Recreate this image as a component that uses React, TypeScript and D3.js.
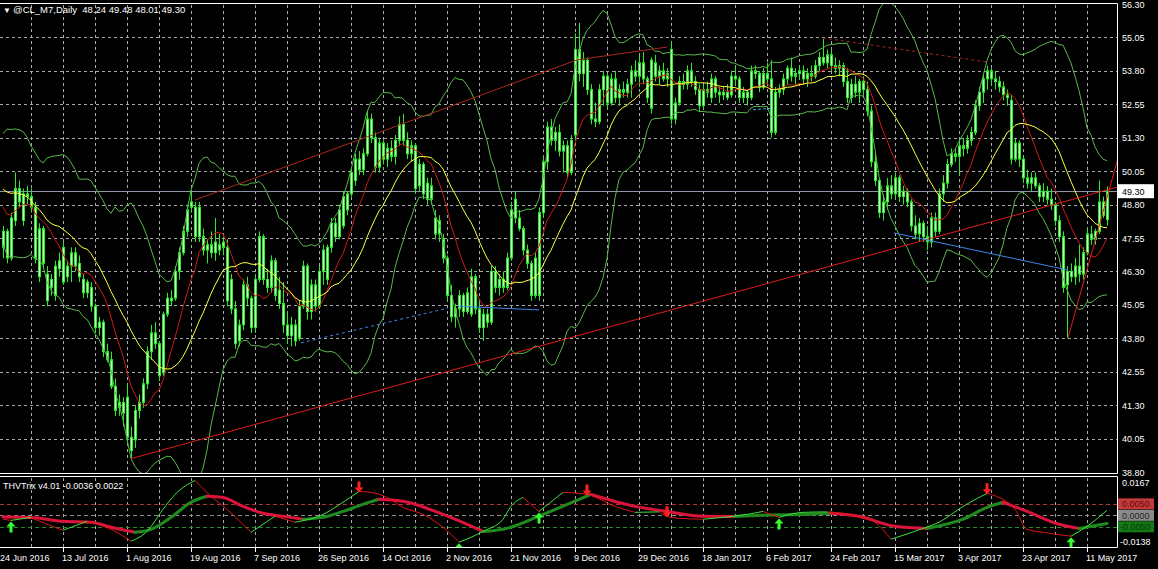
import { useEffect, useRef } from 'react';
import * as d3 from 'd3';

// Daily bars [open, high, low, close]
const candles: [number, number, number, number][] = [
  [47.2, 48.0, 46.8, 47.8], [47.8, 47.9, 46.6, 46.8], [46.8, 48.5, 46.7, 48.3], [48.2, 50.0, 48.0, 49.4],
  [49.4, 49.7, 48.7, 48.9], [48.2, 49.4, 48.0, 49.2], [49.2, 49.5, 48.8, 49.1], [49.1, 49.4, 48.5, 48.7],
  [48.7, 48.9, 46.6, 46.8], [46.1, 48.1, 45.9, 47.9], [47.9, 48.0, 46.4, 46.6], [46.2, 46.5, 45.0, 45.2],
  [45.7, 46.2, 45.4, 46.0], [45.4, 46.7, 45.2, 46.5], [46.4, 47.0, 46.1, 46.7], [47.2, 47.4, 45.8, 45.9],
  [46.1, 46.7, 45.9, 46.5], [46.5, 47.2, 45.9, 47.0], [47.0, 47.2, 46.3, 46.5], [46.6, 46.9, 45.9, 46.1],
  [46.0, 46.2, 45.3, 45.5], [45.5, 46.0, 45.3, 45.9], [45.7, 45.9, 44.8, 45.0], [45.0, 45.1, 44.0, 44.2],
  [44.2, 44.6, 43.9, 44.4], [44.4, 44.5, 43.1, 43.3], [43.3, 43.6, 42.9, 43.0], [43.0, 43.3, 41.9, 42.0],
  [42.0, 42.3, 40.9, 41.1], [41.2, 41.7, 40.9, 41.4], [41.4, 41.6, 40.5, 41.0], [41.6, 42.1, 39.9, 40.1],
  [40.1, 40.5, 39.25, 39.6], [40.0, 41.3, 39.7, 41.1], [41.1, 41.7, 40.8, 41.4], [41.4, 42.3, 41.2, 42.1],
  [42.1, 43.5, 41.9, 43.3], [43.3, 44.3, 43.0, 44.0], [44.0, 44.4, 43.4, 43.6], [43.6, 43.7, 42.2, 42.4],
  [42.5, 44.8, 42.4, 44.7], [44.7, 45.5, 44.6, 45.3], [45.3, 45.6, 45.0, 45.2], [45.3, 46.5, 45.2, 46.3],
  [46.3, 47.2, 46.0, 47.0], [47.0, 48.0, 46.9, 47.8], [47.8, 48.8, 47.6, 48.6], [48.7, 49.35, 48.5, 48.9],
  [48.7, 48.9, 47.4, 47.6], [47.6, 48.9, 47.4, 48.7], [47.6, 47.9, 46.9, 47.1], [47.1, 47.5, 46.6, 47.3],
  [47.3, 47.8, 46.8, 47.0], [47.0, 48.3, 46.7, 47.4], [47.3, 47.7, 46.9, 47.1], [47.2, 47.6, 46.9, 47.4],
  [47.2, 47.5, 45.0, 45.2], [46.0, 46.2, 44.7, 44.9], [44.9, 45.2, 43.4, 43.6], [43.7, 44.5, 43.5, 44.3],
  [44.3, 46.0, 44.1, 45.8], [45.8, 46.1, 45.0, 45.3], [45.3, 45.4, 44.0, 44.2], [44.2, 46.2, 44.0, 46.0],
  [46.0, 47.8, 45.9, 47.6], [47.6, 47.7, 45.8, 46.0], [46.0, 46.4, 45.5, 45.7], [45.7, 46.9, 45.5, 46.7],
  [46.7, 46.8, 45.2, 45.4], [45.6, 46.1, 44.9, 45.1], [45.1, 45.9, 44.0, 44.3], [44.3, 44.8, 43.6, 43.9],
  [43.9, 44.6, 43.5, 44.3], [44.3, 44.5, 43.5, 43.7], [43.8, 45.2, 43.7, 45.0], [45.0, 46.7, 44.9, 46.5],
  [46.5, 46.6, 44.5, 44.8], [44.8, 46.0, 44.5, 45.8], [45.8, 46.0, 44.8, 45.0], [45.0, 46.5, 44.9, 46.3],
  [46.3, 47.3, 45.8, 47.1], [46.0, 47.3, 45.8, 47.2], [47.2, 48.3, 47.0, 48.1], [48.1, 48.3, 47.4, 47.6],
  [47.6, 48.8, 47.5, 48.6], [48.0, 49.3, 47.9, 49.1], [48.6, 49.3, 48.4, 49.2], [49.2, 50.2, 49.1, 50.0],
  [49.7, 50.7, 49.5, 50.5], [50.5, 50.8, 49.9, 50.1], [50.1, 50.9, 49.9, 50.7], [50.7, 52.3, 50.6, 52.0],
  [52.0, 52.2, 51.1, 51.3], [51.3, 51.5, 50.0, 50.2], [50.2, 51.3, 50.0, 51.1], [51.1, 51.2, 50.3, 50.5],
  [50.5, 51.1, 50.2, 50.9], [50.9, 51.2, 50.4, 50.6], [50.6, 51.4, 50.3, 51.2], [51.2, 52.1, 51.0, 51.8],
  [51.8, 52.2, 51.0, 51.2], [51.2, 51.5, 50.5, 50.7], [50.7, 51.2, 50.4, 51.0], [51.0, 51.1, 49.2, 49.4],
  [49.5, 50.5, 49.3, 50.3], [50.3, 50.4, 49.0, 49.2], [49.6, 49.8, 48.8, 49.0], [49.0, 49.8, 48.8, 49.5],
  [48.3, 48.6, 47.5, 47.7], [47.7, 48.4, 47.4, 48.2], [47.5, 47.7, 46.6, 46.8], [46.8, 46.9, 45.2, 45.4],
  [45.4, 45.8, 44.4, 44.6], [44.6, 45.1, 44.2, 44.9], [44.9, 45.6, 44.6, 45.4], [45.4, 45.5, 44.6, 44.8],
  [44.8, 45.7, 44.7, 45.5], [44.7, 46.4, 44.6, 46.1], [46.1, 46.2, 44.7, 44.9], [44.9, 45.2, 44.0, 44.2],
  [44.2, 44.9, 43.7, 44.7], [44.7, 44.9, 44.2, 44.4], [44.4, 46.5, 44.3, 46.3], [46.3, 46.5, 45.5, 45.7],
  [45.7, 46.2, 45.4, 46.0], [46.0, 46.3, 45.5, 45.7], [45.7, 47.0, 45.6, 46.8], [46.8, 48.9, 46.7, 48.6],
  [48.3, 49.3, 48.1, 49.0], [48.3, 48.6, 47.8, 47.9], [47.9, 48.0, 46.9, 47.1], [47.1, 47.3, 46.4, 46.6],
  [46.6, 46.7, 45.2, 45.4], [45.4, 47.0, 45.3, 46.8], [45.4, 48.7, 45.2, 48.5], [48.5, 50.6, 48.3, 50.4],
  [50.4, 51.9, 50.1, 51.7], [51.7, 52.0, 51.0, 51.2], [51.2, 51.7, 50.8, 51.5], [51.5, 51.8, 50.6, 50.8],
  [50.8, 51.2, 50.0, 51.0], [51.0, 51.2, 49.8, 50.0], [50.0, 51.4, 49.9, 51.2], [51.4, 55.2, 51.2, 54.6],
  [54.6, 55.6, 53.4, 53.7], [53.7, 54.5, 53.2, 54.2], [54.2, 54.3, 52.9, 53.1], [53.1, 53.3, 51.8, 52.0],
  [52.0, 52.6, 51.7, 51.9], [51.9, 53.3, 51.8, 53.1], [53.1, 53.8, 52.5, 53.6], [53.6, 53.7, 52.4, 52.6],
  [52.6, 53.7, 52.5, 53.5], [53.5, 53.8, 52.6, 52.8], [52.8, 53.3, 52.5, 53.1], [53.1, 53.4, 52.8, 53.0],
  [53.0, 53.5, 52.8, 53.3], [53.3, 54.0, 52.8, 53.8], [53.8, 54.2, 53.4, 53.6], [53.6, 54.4, 53.2, 54.1],
  [54.1, 54.5, 53.3, 53.5], [53.5, 53.6, 52.6, 52.8], [52.4, 54.3, 52.2, 54.2], [54.1, 54.4, 53.4, 53.6],
  [53.6, 54.0, 53.3, 53.8], [53.8, 54.1, 53.4, 53.5], [53.5, 53.9, 53.2, 53.7], [54.6, 54.9, 51.8, 52.0],
  [52.0, 52.8, 51.8, 52.6], [52.6, 53.6, 52.5, 53.4], [53.4, 53.7, 53.1, 53.3], [53.3, 54.0, 53.1, 53.8],
  [53.8, 54.1, 53.2, 53.4], [53.4, 53.6, 52.9, 53.1], [53.1, 53.3, 52.3, 52.5], [52.5, 53.3, 52.4, 53.1],
  [53.1, 53.4, 52.8, 53.0], [52.8, 53.7, 52.6, 53.5], [53.5, 53.6, 52.8, 53.0], [53.0, 53.2, 52.6, 52.9],
  [52.9, 53.2, 52.7, 53.0], [53.0, 53.3, 52.7, 52.8], [52.9, 53.8, 52.8, 53.6], [53.6, 54.0, 53.3, 53.5],
  [53.5, 53.6, 52.6, 52.8], [52.8, 53.2, 52.6, 53.0], [53.0, 53.1, 52.5, 52.8], [52.8, 54.0, 52.7, 53.8],
  [53.8, 54.0, 53.5, 53.7], [53.7, 53.8, 53.0, 53.2], [53.2, 53.9, 53.1, 53.7], [53.7, 54.1, 53.3, 53.5],
  [53.5, 54.2, 51.3, 51.5], [51.5, 53.2, 51.4, 53.0], [53.0, 53.3, 52.8, 53.1], [53.1, 53.7, 52.9, 53.5],
  [53.5, 54.0, 53.3, 53.9], [53.9, 54.3, 53.4, 53.6], [53.6, 53.9, 53.3, 53.7], [53.7, 54.0, 53.5, 53.8],
  [53.8, 54.0, 53.3, 53.5], [53.5, 53.9, 53.2, 53.7], [53.7, 54.0, 53.4, 53.6], [53.6, 54.2, 53.5, 54.0],
  [54.0, 54.5, 53.8, 54.3], [54.3, 55.0, 54.0, 54.1], [54.1, 54.6, 53.9, 54.4], [54.4, 54.6, 53.8, 54.0],
  [54.0, 54.3, 53.7, 53.9], [53.9, 54.2, 53.6, 54.0], [54.0, 54.1, 53.2, 53.4], [53.4, 53.9, 52.6, 52.8],
  [52.8, 53.5, 52.6, 53.3], [53.3, 53.6, 52.8, 53.0], [53.0, 53.5, 52.6, 53.4], [53.4, 53.6, 52.9, 53.1],
  [53.1, 53.4, 52.1, 52.3], [52.3, 52.5, 50.2, 50.4], [50.4, 50.7, 49.5, 49.7], [49.7, 49.8, 48.3, 48.5],
  [48.5, 49.2, 48.2, 48.9], [48.9, 49.8, 48.6, 49.5], [49.5, 49.9, 49.0, 49.2], [49.2, 50.0, 49.0, 49.8],
  [49.8, 49.9, 48.9, 49.1], [49.1, 49.5, 48.8, 49.3], [49.3, 49.4, 48.7, 48.9], [48.9, 49.0, 47.8, 48.0],
  [48.0, 48.4, 47.5, 47.7], [47.7, 48.3, 47.4, 48.1], [48.1, 48.2, 47.4, 47.6], [47.6, 48.0, 47.1, 47.4],
  [47.4, 48.5, 47.2, 48.3], [48.3, 48.5, 47.6, 47.8], [47.8, 49.4, 47.7, 49.2], [49.2, 49.9, 48.9, 49.6],
  [49.6, 50.5, 49.4, 50.3], [50.3, 50.9, 50.2, 50.7], [50.7, 50.9, 50.4, 50.6], [50.6, 51.2, 49.9, 51.0],
  [51.0, 51.3, 50.6, 50.9], [50.9, 51.4, 50.7, 51.2], [51.2, 51.7, 51.0, 51.5], [51.5, 52.7, 51.4, 52.5],
  [52.5, 53.2, 52.3, 53.0], [53.0, 53.7, 52.6, 53.5], [53.5, 54.0, 53.1, 53.8], [53.8, 53.9, 53.3, 53.5],
  [53.5, 53.8, 53.1, 53.4], [53.4, 53.6, 53.0, 53.2], [53.2, 53.4, 52.7, 52.9], [52.9, 53.1, 52.5, 52.8],
  [52.7, 52.9, 50.3, 50.5], [50.5, 51.3, 50.4, 51.1], [51.1, 51.2, 50.2, 50.5], [50.5, 50.6, 49.6, 49.8],
  [49.8, 50.1, 49.4, 49.6], [49.6, 50.0, 49.3, 49.8], [49.8, 50.0, 49.4, 49.5], [49.5, 49.6, 48.9, 49.1],
  [49.1, 49.6, 48.9, 49.3], [49.3, 49.5, 48.8, 49.0], [49.0, 49.4, 48.6, 48.8], [48.8, 48.9, 48.0, 48.2],
  [48.2, 48.4, 47.4, 47.6], [47.6, 47.8, 45.5, 45.7], [45.8, 46.5, 43.8, 46.3], [46.3, 46.6, 45.9, 46.1],
  [46.1, 46.8, 45.8, 46.5], [46.5, 47.3, 45.9, 46.2], [46.2, 47.2, 46.0, 47.0], [47.0, 47.9, 46.9, 47.7],
  [47.7, 48.0, 47.3, 47.5], [47.5, 47.9, 47.3, 47.8], [47.8, 49.7, 47.7, 48.9], [48.9, 49.1, 48.3, 48.4],
  [48.24, 49.48, 48.01, 49.30],
];

// closes before the first visible bar, needed to start the averages
const warmupCloses = [49.0, 49.3, 49.0, 49.5, 50.0, 50.8, 51.2, 51.0, 50.5, 50.2, 49.5, 48.6, 47.9, 47.5, 48.2, 48.8, 49.4, 49.6, 49.8];

const priceLevels = [56.30, 55.05, 53.80, 52.55, 51.30, 50.05, 48.80, 47.55, 46.30, 45.05, 43.80, 42.55, 41.30, 40.05, 38.80];

const dateTickIdx = [-1, 15, 31, 47, 63, 79, 95, 111, 127, 143, 159, 175, 191, 207, 223, 239, 255, 271];
const dateLabels = [
  '24 Jun 2016', '13 Jul 2016', '1 Aug 2016', '19 Aug 2016', '7 Sep 2016', '26 Sep 2016',
  '14 Oct 2016', '2 Nov 2016', '21 Nov 2016', '9 Dec 2016', '29 Dec 2016', '18 Jan 2017',
  '6 Feb 2017', '24 Feb 2017', '15 Mar 2017', '3 Apr 2017', '23 Apr 2017', '11 May 2017',
];

// THVTrix, [bar index, value]
const trixFast: [number, number][] = [
  [0, -0.0017], [2, -0.0022], [7, -0.0009], [11, -0.0039], [15, -0.0065], [21, -0.0026], [27, -0.0061],
  [32, -0.0113], [36, -0.0070], [40, 0.0026], [43, 0.0091], [48, 0.0152], [52, 0.0083], [56, 0.0026],
  [62, -0.0074], [65, -0.0039], [68, -0.0004], [73, -0.0030], [80, 0.0004], [85, 0.0057], [89, 0.0104],
  [92, 0.0100], [96, 0.0078], [100, 0.0035], [105, 0.0004], [110, -0.0052], [114, -0.0117], [117, -0.0096],
  [120, -0.0070], [125, -0.0017], [127, 0.0039], [130, 0.0078], [134, 0.0017], [140, 0.0100], [146, 0.0091],
  [153, 0.0039], [158, 0.0013], [164, 0.0015], [166, -0.0004], [169, -0.0013], [175, -0.0017], [180, -0.0009],
  [186, 0.0004], [190, 0.0017], [194, -0.0009], [200, 0.0013], [206, 0.0015], [214, -0.0004], [218, -0.0030],
  [222, -0.0104], [230, -0.0057], [234, -0.0030], [240, 0.0039], [246, 0.0096], [253, 0.0026], [256, -0.0061],
  [260, -0.0074], [267, -0.0091], [271, -0.0048], [276, 0.0022],
];
const trixSlow: [number, number][] = [
  [0, -0.0007], [7, -0.0009], [15, -0.0026], [22, -0.0030], [27, -0.0052], [33, -0.0074], [37, -0.0061],
  [42, -0.0009], [47, 0.0057], [51, 0.0083], [55, 0.0078], [60, 0.0039], [65, 0.0009], [70, -0.0004],
  [75, -0.0017], [80, -0.0009], [85, 0.0017], [90, 0.0048], [94, 0.0070], [100, 0.0061], [110, 0.0004],
  [120, -0.0070], [125, -0.0061], [135, 0.0004], [147, 0.0091], [158, 0.0039], [166, 0.0017], [175, -0.0004],
  [183, -0.0005], [190, 0.0000], [200, 0.0004], [207, 0.0009], [214, -0.0004], [223, -0.0048], [231, -0.0057],
  [240, -0.0017], [246, 0.0035], [250, 0.0057], [256, 0.0017], [264, -0.0039], [269, -0.0057], [276, -0.0036],
];
const buySignals = [2, 114, 134, 194, 267];
const sellSignals = [89, 146, 166, 246];
const trixLevels = [0.005, 0, -0.005];
const trixRange = [-0.0138, 0.0167];

// hand-drawn objects, anchors as [bar index, price]
const uptrendLine: [number, number][] = [[32, 39.3], [209.5, 46.61]];
const channelLine: [number, number][] = [[48, 48.97], [143.5, 54.21]];
const decemberLine: [number, number][] = [[143.5, 54.21], [166, 54.69]];
const topsLine: [number, number][] = [[205, 55.03], [246, 54.13]];
const septLine: [number, number][] = [[74.5, 43.63], [111.25, 44.93]];
const novLine: [number, number][] = [[113.75, 45.0], [134, 44.86]];
const janLine: [number, number][] = [[187.5, 52.35], [192.5, 52.4]];
const marchLine: [number, number][] = [[222.75, 47.74], [266.25, 46.35]];
const mayLine: [number, number][] = [[266.25, 43.81], [278.75, 50.54]];

function sma(values: number[], period: number, i: number) {
  return d3.mean(values.slice(i - period + 1, i + 1)) as number;
}

function monotoneRuns(pts: [number, number][]) {
  const runs: { up: boolean; pts: [number, number][] }[] = [];
  for (let k = 1; k < pts.length; k++) {
    const up = pts[k][1] >= pts[k - 1][1];
    const last = runs[runs.length - 1];
    if (last && last.up === up) last.pts.push(pts[k]);
    else runs.push({ up, pts: [pts[k - 1], pts[k]] });
  }
  return runs;
}

const FONT = '"Liberation Sans", Arial, sans-serif';

export default function App() {
  const svgRef = useRef<SVGSVGElement>(null);

  useEffect(() => {
    if (!svgRef.current) return;
    const svg = d3.select(svgRef.current);
    svg.selectAll('*').remove();

    const right = 1117;
    const mainTop = 3, mainBottom = 473;
    const subTop = 476, subBottom = 547;
    const n = candles.length;

    const x = d3.scaleLinear().domain([0, n - 1]).range([3, 3 + 4 * (n - 1)]);
    const y = d3.scaleLinear().domain([38.80, 56.30]).range([472, 4]);
    const yt = d3.scaleLinear().domain(trixRange).range([547, 477]);

    svg.append('rect').attr('width', 1158).attr('height', 569).attr('fill', '#000');

    const defs = svg.append('defs');
    defs.append('clipPath').attr('id', 'clip-main').append('rect')
      .attr('x', 0).attr('y', mainTop).attr('width', right).attr('height', mainBottom - mainTop);
    defs.append('clipPath').attr('id', 'clip-sub').append('rect')
      .attr('x', 0).attr('y', subTop).attr('width', right).attr('height', subBottom - subTop);

    // ── Grid ────────────────────────────────────────────────────────────────
    const grid = svg.append('g').attr('stroke', '#a9a9a9').attr('stroke-dasharray', '3,3').attr('stroke-width', 1);
    const gridIdx = d3.range(7, n, 8);
    gridIdx.forEach(i => {
      const gx = Math.round(x(i)) + 0.5;
      grid.append('line').attr('x1', gx).attr('x2', gx).attr('y1', mainTop + 2).attr('y2', mainBottom);
      grid.append('line').attr('x1', gx).attr('x2', gx).attr('y1', subTop + 2).attr('y2', subBottom);
    });
    priceLevels.slice(1, -1).forEach(p => {
      const gy = Math.round(y(p)) + 0.5;
      grid.append('line').attr('x1', 0).attr('x2', right).attr('y1', gy).attr('y2', gy);
    });

    // ── Main panel ──────────────────────────────────────────────────────────
    const main = svg.append('g').attr('clip-path', 'url(#clip-main)');

    // bid line
    const bidY = Math.round(y(candles[n - 1][3])) + 0.5;
    main.append('line').attr('x1', 0).attr('x2', right).attr('y1', bidY).attr('y2', bidY)
      .attr('stroke', '#8d96a8').attr('stroke-width', 1);

    // candles
    const cg = main.append('g');
    cg.selectAll('line.wick').data(candles).join('line')
      .attr('class', 'wick')
      .attr('x1', (_, i) => x(i) + 0.5).attr('x2', (_, i) => x(i) + 0.5)
      .attr('y1', d => y(d[1])).attr('y2', d => y(d[2]))
      .attr('stroke', '#2ee82e').attr('stroke-width', 1);
    cg.selectAll('rect.body').data(candles).join('rect')
      .attr('class', 'body')
      .attr('x', (_, i) => x(i) - 0.5).attr('width', 2)
      .attr('y', d => y(Math.max(d[0], d[3])))
      .attr('height', d => Math.max(1, Math.abs(y(d[0]) - y(d[3]))))
      .attr('fill', '#c4ffc4').attr('stroke', '#2ee82e').attr('stroke-width', 1);

    // averages and bands
    const allCloses = warmupCloses.concat(candles.map(d => d[3]));
    const off = warmupCloses.length;
    const idx = d3.range(n);
    const mid = idx.map(i => sma(allCloses, 20, i + off));
    const dev = idx.map(i => {
      const w = allCloses.slice(i + off - 19, i + off + 1);
      const m = d3.mean(w) as number;
      return Math.sqrt(d3.mean(w, v => (v - m) * (v - m)) as number);
    });
    const fast = idx.map(i => sma(allCloses, 10, i + off));
    const line = d3.line<number>().x((_, i) => x(i)).y(v => y(v));

    main.append('path').attr('d', line(mid.map((m, i) => m + 2 * dev[i])))
      .attr('fill', 'none').attr('stroke', '#58b84a').attr('stroke-width', 1);
    main.append('path').attr('d', line(mid.map((m, i) => m - 2 * dev[i])))
      .attr('fill', 'none').attr('stroke', '#58b84a').attr('stroke-width', 1);
    main.append('path').attr('d', line(fast))
      .attr('fill', 'none').attr('stroke', '#cc1a1a').attr('stroke-width', 1);
    main.append('path').attr('d', line(mid))
      .attr('fill', 'none').attr('stroke', '#ffff40').attr('stroke-width', 1);

    // trendlines
    const seg = (pts: [number, number][], color: string, dash: string | null, ray = false) => {
      let [a, b] = pts;
      if (ray) {
        const endI = x.invert(right + 2);
        const slope = (b[1] - a[1]) / (b[0] - a[0]);
        b = [endI, a[1] + slope * (endI - a[0])];
      }
      main.append('line')
        .attr('x1', x(a[0])).attr('y1', y(a[1])).attr('x2', x(b[0])).attr('y2', y(b[1]))
        .attr('stroke', color).attr('stroke-width', 1)
        .attr('stroke-dasharray', dash);
    };
    seg(uptrendLine, '#e01b1b', null, true);
    seg(channelLine, '#a8281e', null);
    seg(decemberLine, '#a8281e', null);
    seg(topsLine, '#a8281e', '3,3');
    seg(septLine, '#3f86e8', '3,3');
    seg(novLine, '#3f86e8', null);
    seg(janLine, '#30b0d0', '3,2');
    seg(marchLine, '#3f86e8', null);
    seg(mayLine, '#e01b1b', null, true);

    // ── Indicator panel ─────────────────────────────────────────────────────
    const sub = svg.append('g').attr('clip-path', 'url(#clip-sub)');
    const levelColors = ['#b03232', '#8c8c8c', '#2a8a2a'];
    trixLevels.forEach((lv, k) => {
      const ly = Math.round(yt(lv)) + 0.5;
      sub.append('line').attr('x1', 0).attr('x2', right).attr('y1', ly).attr('y2', ly)
        .attr('stroke', levelColors[k]).attr('stroke-dasharray', '4,3');
    });

    const tline = d3.line<[number, number]>().x(d => x(d[0])).y(d => yt(d[1])).curve(d3.curveMonotoneX);
    monotoneRuns(trixSlow).forEach(r => {
      sub.append('path').attr('d', tline(r.pts)).attr('fill', 'none')
        .attr('stroke', r.up ? '#1f8a1f' : '#dc143c').attr('stroke-width', 3)
        .attr('stroke-linecap', 'round');
    });
    monotoneRuns(trixFast).forEach(r => {
      sub.append('path').attr('d', tline(r.pts)).attr('fill', 'none')
        .attr('stroke', r.up ? '#3ee03e' : '#dd1414').attr('stroke-width', 1);
    });

    const fastAt = (i: number) => (trixFast.find(p => p[0] === i) ?? [i, 0])[1];
    buySignals.forEach(i => {
      const cx = x(i), ty = yt(fastAt(i)) + 1;
      sub.append('path')
        .attr('d', `M${cx},${ty} L${cx + 4.5},${ty + 5} L${cx + 1.5},${ty + 5} L${cx + 1.5},${ty + 11} L${cx - 1.5},${ty + 11} L${cx - 1.5},${ty + 5} L${cx - 4.5},${ty + 5} Z`)
        .attr('fill', '#33ff33');
    });
    sellSignals.forEach(i => {
      const cx = x(i), ty = yt(fastAt(i)) + 1;
      sub.append('path')
        .attr('d', `M${cx},${ty} L${cx + 4.5},${ty - 5} L${cx + 1.5},${ty - 5} L${cx + 1.5},${ty - 11} L${cx - 1.5},${ty - 11} L${cx - 1.5},${ty - 5} L${cx - 4.5},${ty - 5} Z`)
        .attr('fill', '#ff2020');
    });

    // ── Borders ─────────────────────────────────────────────────────────────
    const border = svg.append('g').attr('stroke', '#ffffff').attr('stroke-width', 1).attr('fill', 'none');
    border.append('path').attr('d', `M0,${mainTop + 0.5} H${right + 0.5} V${mainBottom + 0.5} H0`);
    border.append('path').attr('d', `M0,${subTop + 0.5} H${right + 0.5} V${subBottom + 0.5} H0`);

    // ── Text ────────────────────────────────────────────────────────────────
    const txt = svg.append('g').attr('font-family', FONT).attr('font-size', 9).attr('fill', '#ffffff');

    priceLevels.forEach(p => {
      txt.append('text').attr('x', right + 5).attr('y', y(p) + 3.5).text(p.toFixed(2));
    });
    const last = candles[n - 1];
    txt.append('rect').attr('x', right + 1).attr('y', y(last[3]) - 7).attr('width', 36).attr('height', 14).attr('fill', '#ffffff');
    txt.append('text').attr('x', right + 5).attr('y', y(last[3]) + 3.5).attr('fill', '#000').text(last[3].toFixed(2));

    txt.append('text').attr('x', right + 5).attr('y', yt(trixRange[1]) + 9).text(trixRange[1].toFixed(4));
    txt.append('text').attr('x', right + 3).attr('y', yt(trixRange[0]) - 2).text(trixRange[0].toFixed(4));
    const boxFill = ['#c23a3a', '#8a8a8a', '#147814'];
    const boxText = ['#5c0c0c', '#262626', '#0a3a0a'];
    trixLevels.forEach((lv, k) => {
      const ly = yt(lv);
      txt.append('rect').attr('x', right + 1).attr('y', ly - 5.5).attr('width', 36).attr('height', 11).attr('fill', boxFill[k]);
      txt.append('text').attr('x', lv < 0 ? right + 3 : right + 5).attr('y', ly + 3.5).attr('fill', boxText[k]).text(lv.toFixed(4));
    });

    dateTickIdx.forEach((i, k) => {
      const tx = Math.round(x(i)) + 0.5;
      svg.append('line').attr('x1', tx).attr('x2', tx).attr('y1', subBottom + 1).attr('y2', subBottom + 5)
        .attr('stroke', '#ffffff');
      txt.append('text').attr('x', Math.max(0, x(i) - 1)).attr('y', 561).text(dateLabels[k]);
    });

    txt.append('text').attr('x', 3).attr('y', 13).attr('font-size', 8).text('▼');
    txt.append('text').attr('x', 13).attr('y', 13).attr('font-size', 9.5).attr('xml:space', 'preserve')
      .text(`@CL_M7,Daily  ${last.map(v => v.toFixed(2)).join(' ')}`);
    const lastSlow = trixSlow[trixSlow.length - 1][1];
    const lastFast = trixFast[trixFast.length - 1][1];
    txt.append('text').attr('x', 3).attr('y', 489)
      .text(`THVTrix v4.01 ${lastSlow.toFixed(4)} ${lastFast.toFixed(4)}`);
  }, []);

  return (
    <svg
      ref={svgRef}
      width={1158}
      height={569}
      style={{ position: 'absolute', left: 0, top: 0, background: '#000', display: 'block' }}
    />
  );
}
